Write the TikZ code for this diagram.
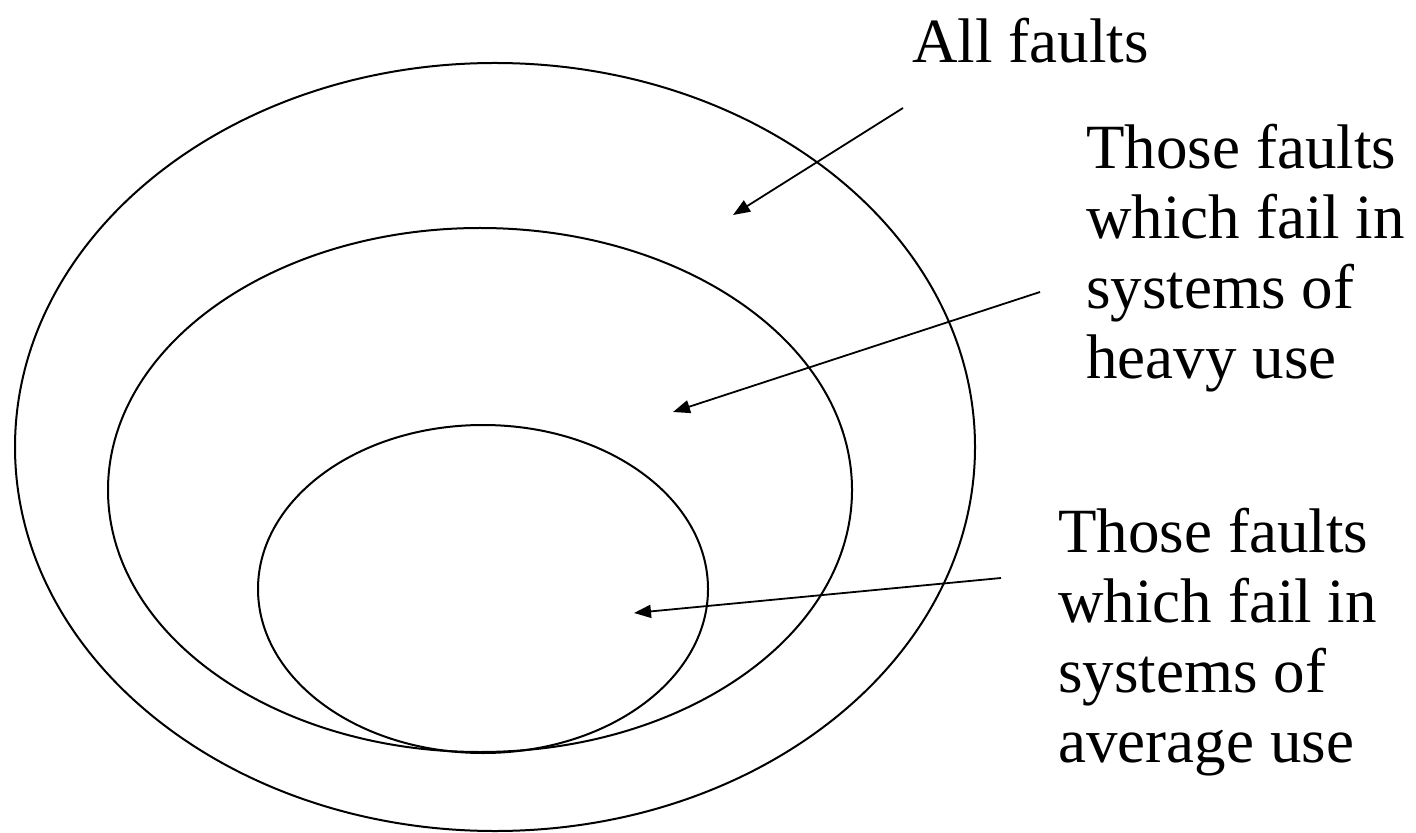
\documentclass[tikz,border=0pt]{standalone}
\usepackage{fontspec}
\setmainfont{Liberation Serif}
\usetikzlibrary{arrows.meta}

\begin{document}
\begin{tikzpicture}[x=0.5pt, y=-0.5pt,
    fault set/.style={draw, line width=1pt},
    fault label/.style={anchor=base west, inner sep=0pt, align=left,
        font=\fontsize{31.5}{35}\selectfont},
    pointer/.style={-{Triangle[length=8.5pt, width=6.5pt]}, line width=0.9pt}]
    \useasboundingbox (0,0) rectangle (1416,833);

    % the three fault sets
    \draw[fault set] (495,447) ellipse [x radius=480, y radius=384];
    \draw[fault set] (480,490) ellipse [x radius=372, y radius=262];
    \draw[fault set] (483,589) ellipse [x radius=225, y radius=164];

    % base of a multi-line label is its last line
    \node[fault label] (allfaults) at (912,63) {All faults};
    \node[fault label] (heavyuse) at (1086,379) {Those faults\\which fail in\\systems of\\heavy use};
    \node[fault label] (averageuse) at (1058,762) {Those faults\\which fail in\\systems of\\average use};

    \coordinate (all from) at (903,108);
    \coordinate (all to) at (733,215);
    \coordinate (heavy from) at (1040,292);
    \coordinate (heavy to) at (673,412);
    \coordinate (average from) at (1001,578);
    \coordinate (average to) at (634,613);

    \draw[pointer] (all from) -- (all to);
    \draw[pointer] (heavy from) -- (heavy to);
    \draw[pointer] (average from) -- (average to);
\end{tikzpicture}
\end{document}
